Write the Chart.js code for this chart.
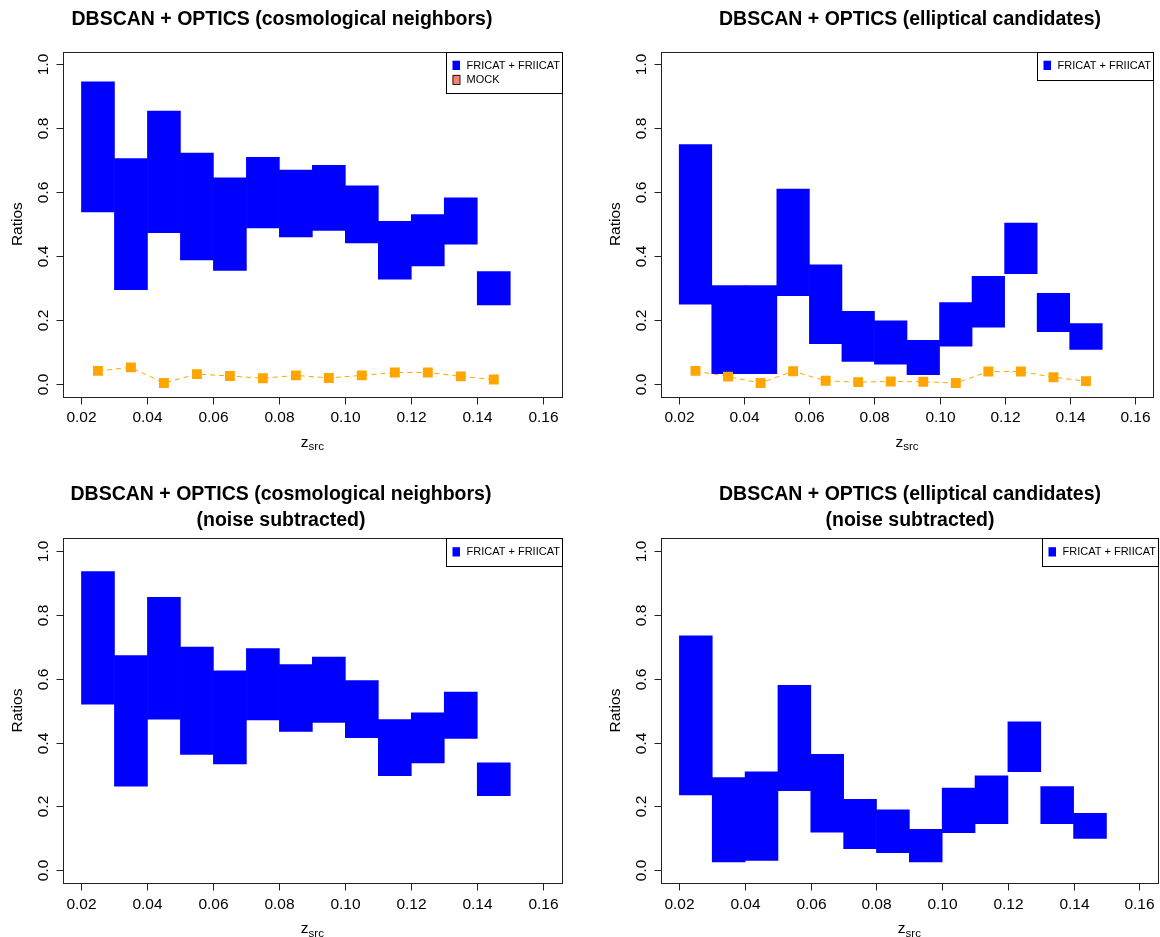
<!DOCTYPE html>
<html>
<head>
<meta charset="utf-8">
<title>DBSCAN + OPTICS ratios</title>
<script src="https://cdn.jsdelivr.net/npm/chart.js@4.4.1/dist/chart.umd.min.js"></script>
<style>
  html, body { margin: 0; padding: 0; background: #fff; }
  #page { position: relative; width: 1160px; height: 937px; }
  #page canvas { position: absolute; }
</style>
</head>
<body>
<div id="page">
  <canvas id="c1" width="580" height="468" style="left:0;top:0"></canvas>
  <canvas id="c2" width="580" height="468" style="left:580px;top:0"></canvas>
  <canvas id="c3" width="580" height="469" style="left:0;top:468px"></canvas>
  <canvas id="c4" width="580" height="469" style="left:580px;top:468px"></canvas>
</div>
<script>
// redshift bin centres, bins are 0.01 wide
const zBins = [0.025, 0.035, 0.045, 0.055, 0.065, 0.075, 0.085, 0.095, 0.105, 0.115, 0.125, 0.135, 0.145];

// cosmological neighbours
const cosmoLow  = [0.538, 0.295, 0.473, 0.388, 0.355, 0.488, 0.460, 0.480, 0.441, 0.328, 0.369, 0.437, 0.247];
const cosmoHigh = [0.945, 0.705, 0.854, 0.722, 0.645, 0.709, 0.669, 0.684, 0.620, 0.509, 0.530, 0.582, 0.352];
const cosmoMock = [0.041, 0.052, 0.003, 0.031, 0.025, 0.018, 0.027, 0.019, 0.027, 0.036, 0.036, 0.024, 0.014];

// elliptical candidates
const ellipLow  = [0.250, 0.032, 0.032, 0.276, 0.126, 0.071, 0.062, 0.029, 0.118, 0.178, 0.345, 0.164, 0.108];
const ellipHigh = [0.749, 0.308, 0.308, 0.610, 0.373, 0.227, 0.198, 0.137, 0.255, 0.337, 0.503, 0.284, 0.189];
const ellipMock = [0.041, 0.023, 0.003, 0.040, 0.010, 0.006, 0.008, 0.007, 0.003, 0.039, 0.039, 0.021, 0.009];

// same, with the mock (noise) level subtracted
const cosmoSubLow  = [0.520, 0.263, 0.473, 0.363, 0.333, 0.471, 0.435, 0.463, 0.415, 0.296, 0.336, 0.413, 0.234];
const cosmoSubHigh = [0.935, 0.672, 0.854, 0.699, 0.624, 0.694, 0.644, 0.667, 0.594, 0.472, 0.493, 0.558, 0.336];
const ellipSubLow  = [0.236, 0.026, 0.031, 0.249, 0.119, 0.068, 0.055, 0.026, 0.118, 0.146, 0.309, 0.146, 0.100];
const ellipSubHigh = [0.734, 0.290, 0.308, 0.579, 0.363, 0.222, 0.189, 0.128, 0.257, 0.296, 0.465, 0.262, 0.178];

const xTicks = [0.02, 0.04, 0.06, 0.08, 0.10, 0.12, 0.14, 0.16];
const yTicks = [0.0, 0.2, 0.4, 0.6, 0.8, 1.0];

const FONT = '"Liberation Sans", Arial, Helvetica, sans-serif';
const BLUE = '#0000ff';
const ORANGE = '#ffa500';

// base-graphics look: box, outside ticks, rotated y labels, title and legend
const rFrame = {
    id: 'rFrame',
    afterDraw(chart, args, opts) {
        const ctx = chart.ctx;
        const { left, right, top, bottom } = chart.chartArea;
        const xs = chart.scales.x;
        const ys = chart.scales.y;
        const L = Math.round(left) + 0.5, R = Math.round(right) + 0.5;
        const T = Math.round(top) + 0.5, B = Math.round(bottom) + 0.5;

        ctx.save();
        ctx.strokeStyle = '#222';
        ctx.fillStyle = '#000';
        ctx.lineWidth = 1;
        ctx.strokeRect(L, T, R - L, B - T);

        // x axis
        ctx.font = '15.5px ' + FONT;
        ctx.textAlign = 'center';
        ctx.textBaseline = 'alphabetic';
        xs.ticks.forEach(t => {
            const px = Math.round(xs.getPixelForValue(t.value)) + 0.5;
            ctx.beginPath();
            ctx.moveTo(px, B);
            ctx.lineTo(px, B + 7);
            ctx.stroke();
            ctx.fillText(t.value.toFixed(2), px, bottom + 25.5);
        });

        // y axis, labels read bottom to top
        ys.ticks.forEach(t => {
            const py = Math.round(ys.getPixelForValue(t.value)) + 0.5;
            ctx.beginPath();
            ctx.moveTo(L - 7, py);
            ctx.lineTo(L, py);
            ctx.stroke();
            ctx.save();
            ctx.translate(left - 15, py);
            ctx.rotate(-Math.PI / 2);
            ctx.fillText(t.value.toFixed(1), 0, 0);
            ctx.restore();
        });

        // axis titles
        const midX = (left + right) / 2;
        const midY = (top + bottom) / 2;
        ctx.save();
        ctx.translate(left - 41.5, midY);
        ctx.rotate(-Math.PI / 2);
        ctx.fillText('Ratios', 0, 0);
        ctx.restore();

        ctx.textAlign = 'left';
        ctx.font = '15.5px ' + FONT;
        const wz = ctx.measureText('z').width;
        ctx.font = '11.5px ' + FONT;
        const ws = ctx.measureText('src').width;
        const x0 = midX - (wz + ws) / 2;
        ctx.font = '15.5px ' + FONT;
        ctx.fillText('z', x0, bottom + 50);
        ctx.font = '11.5px ' + FONT;
        ctx.fillText('src', x0 + wz, bottom + 53.5);

        // main title
        ctx.font = 'bold 19.5px ' + FONT;
        ctx.textAlign = 'center';
        opts.title.forEach((line, i) => ctx.fillText(line, opts.titleX, opts.titleY[i]));

        // legend in the top right corner
        const items = opts.legend;
        const boxW = 116;
        const boxH = 14.2 + 13.6 * items.length;
        const bx = R - boxW;
        ctx.fillStyle = '#fff';
        ctx.fillRect(bx, T, boxW, boxH);
        ctx.strokeStyle = '#000';
        ctx.strokeRect(bx, T, boxW, Math.round(boxH));
        ctx.font = '11px ' + FONT;
        ctx.textAlign = 'left';
        ctx.textBaseline = 'middle';
        items.forEach((it, i) => {
            const cy = top + 13.8 + i * 14;
            ctx.fillStyle = it.fill;
            ctx.fillRect(bx + 6, cy - 4.6, 7.5, 9.3);
            if (it.stroke) {
                ctx.strokeStyle = it.stroke;
                ctx.strokeRect(bx + 6.5, Math.round(cy - 4.6) + 0.5, 7, 9);
            }
            ctx.fillStyle = '#000';
            ctx.fillText(it.label, bx + 20, cy + 0.5);
        });
        ctx.restore();
    }
};

function makePanel(canvasId, low, high, mock, frame) {
    const datasets = [{
        type: 'bar',
        label: 'FRICAT + FRIICAT',
        data: zBins.map((z, i) => ({ x: z, y: [low[i], high[i]] })),
        backgroundColor: BLUE,
        borderWidth: 0,
        barPercentage: 1,
        categoryPercentage: 1,
        order: 2
    }];
    if (mock) {
        datasets.push({
            type: 'line',
            label: 'MOCK',
            data: zBins.map((z, i) => ({ x: z, y: mock[i] })),
            borderColor: ORANGE,
            borderWidth: 1,
            borderDash: [5, 4],
            fill: false,
            tension: 0,
            pointStyle: 'rect',
            pointRadius: 7,
            pointBackgroundColor: ORANGE,
            pointBorderWidth: 0,
            order: 1
        });
    }

    return new Chart(document.getElementById(canvasId), {
        type: 'bar',
        data: { datasets: datasets },
        options: {
            responsive: false,
            animation: false,
            devicePixelRatio: 1,
            layout: { padding: frame.padding },
            plugins: {
                legend: { display: false },
                tooltip: { enabled: false },
                title: { display: false },
                rFrame: frame
            },
            scales: {
                x: {
                    type: 'linear',
                    min: 0.0144,
                    max: 0.1656,
                    offset: false,
                    display: false,
                    afterBuildTicks: s => { s.ticks = xTicks.map(v => ({ value: v })); }
                },
                y: {
                    type: 'linear',
                    min: -0.04,
                    max: 1.04,
                    display: false,
                    afterBuildTicks: s => { s.ticks = yTicks.map(v => ({ value: v })); }
                }
            }
        },
        plugins: [rFrame]
    });
}

const catItem = { label: 'FRICAT + FRIICAT', fill: BLUE };
const mockItem = { label: 'MOCK', fill: '#fa8072', stroke: '#222' };

makePanel('c1', cosmoLow, cosmoHigh, cosmoMock, {
    padding: { left: 63, top: 51.5, right: 18.3, bottom: 71.2 },
    title: ['DBSCAN + OPTICS (cosmological neighbors)'],
    titleX: 282, titleY: [24.5],
    legend: [catItem, mockItem]
});
makePanel('c2', ellipLow, ellipHigh, ellipMock, {
    padding: { left: 81, top: 51.5, right: 2.3, bottom: 71.2 },
    title: ['DBSCAN + OPTICS (elliptical candidates)'],
    titleX: 330, titleY: [24.5],
    legend: [catItem]
});
makePanel('c3', cosmoSubLow, cosmoSubHigh, null, {
    padding: { left: 63, top: 70, right: 18.3, bottom: 53.9 },
    title: ['DBSCAN + OPTICS (cosmological neighbors)', '(noise subtracted)'],
    titleX: 281, titleY: [31.5, 57.5],
    legend: [catItem]
});
makePanel('c4', ellipSubLow, ellipSubHigh, null, {
    padding: { left: 81, top: 70, right: 2.3, bottom: 53.9 },
    title: ['DBSCAN + OPTICS (elliptical candidates)', '(noise subtracted)'],
    titleX: 330, titleY: [31.5, 57.5],
    legend: [catItem]
});
</script>
</body>
</html>
